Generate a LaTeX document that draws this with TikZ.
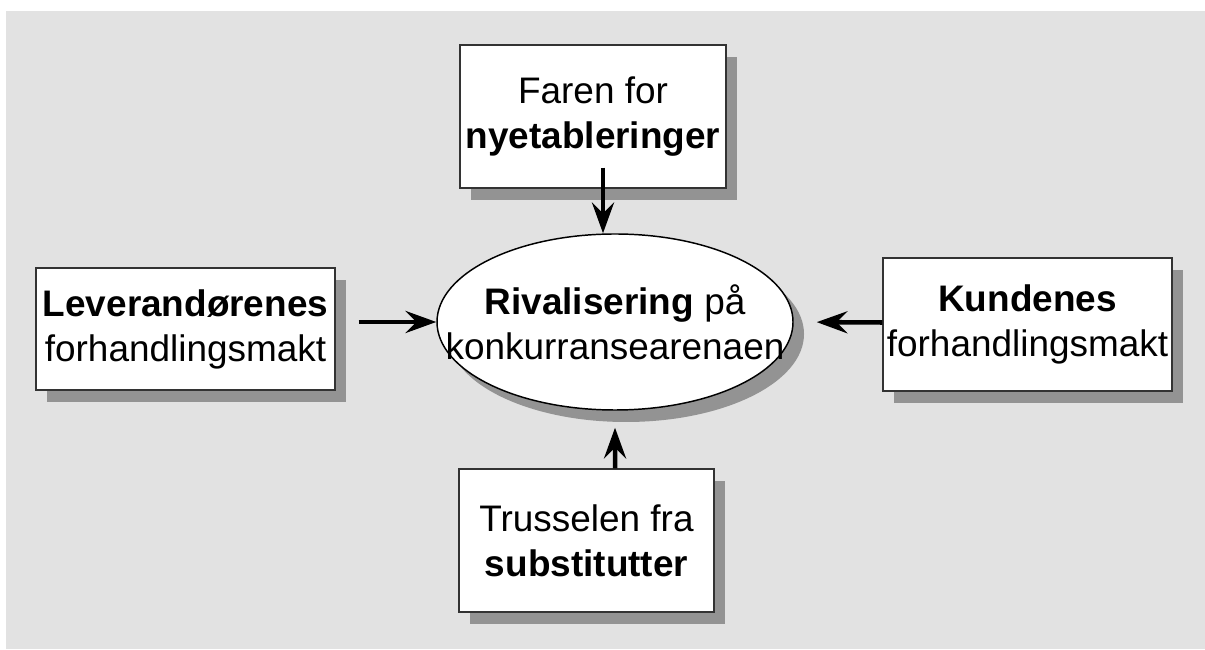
\documentclass[tikz,border=0pt]{standalone}
\usepackage{fontspec}
\setmainfont{Liberation Sans}
\usetikzlibrary{arrows.meta,shapes.geometric,shadows}
\definecolor{bggray}{HTML}{E2E2E2}
\definecolor{shadowgray}{HTML}{939393}
\definecolor{edgegray}{HTML}{333333}

\begin{document}
\begin{tikzpicture}[x=0.75pt, y=0.75pt,
    castshadow/.style={drop shadow={shadow xshift=8.25pt, shadow yshift=-9pt, fill=shadowgray, opacity=1}},
    bigtext/.style={font=\fontsize{27.7}{33.75}\selectfont, align=center},
    force/.style={rectangle, draw=edgegray, line width=1.1pt, fill=white, inner sep=0pt, castshadow, bigtext},
    push/.style={line width=3.4pt, -{Stealth[length=23pt, width=16.5pt, inset=8pt]}}]

  % Background
  \useasboundingbox (0,0) rectangle (1205,649);
  \fill[bggray] (6,0) rectangle (1205,638);

  % Rivalry in the middle
  \node[ellipse, draw=black, line width=1.1pt, fill=white, castshadow, minimum width=267pt, minimum height=132pt] (rival) at (615,327) {};
  \node[bigtext, inner sep=0pt] (rivaltext) at (rival) {\textbf{Rivalisering} på\\konkurransearenaen};

  % The four forces
  \node[force, minimum width=199.5pt, minimum height=107.25pt] (faren) at (593,532.5) {Faren for\\\textbf{nyetableringer}};
  \node[force, minimum width=224.25pt, minimum height=91.5pt] (lever) at (185.5,320) {\textbf{Leverandørenes}\\forhandlingsmakt};
  \node[force, minimum width=216.75pt, minimum height=99.75pt] (kunde) at (1027.5,324.5) {\textbf{Kundenes}\\forhandlingsmakt};
  \node[force, minimum width=191.25pt, minimum height=107.25pt] (trussel) at (586.5,108.5) {Trusselen fra\\\textbf{substitutter}};

  % Arrows
  \draw[push] ([xshift=7.5pt,yshift=15.75pt]faren.south) -- ([xshift=-9pt]rival.north);
  \draw[push] ([xshift=17.25pt,yshift=5.25pt]lever.east) -- (rival.west);
  \draw[push, shorten >=17.25pt] ([yshift=1.5pt]kunde.west) -- (rival.east);
  \draw[push, shorten >=12.75pt] ([xshift=21.4pt]trussel.north) -- (rival.south);

\end{tikzpicture}
\end{document}
